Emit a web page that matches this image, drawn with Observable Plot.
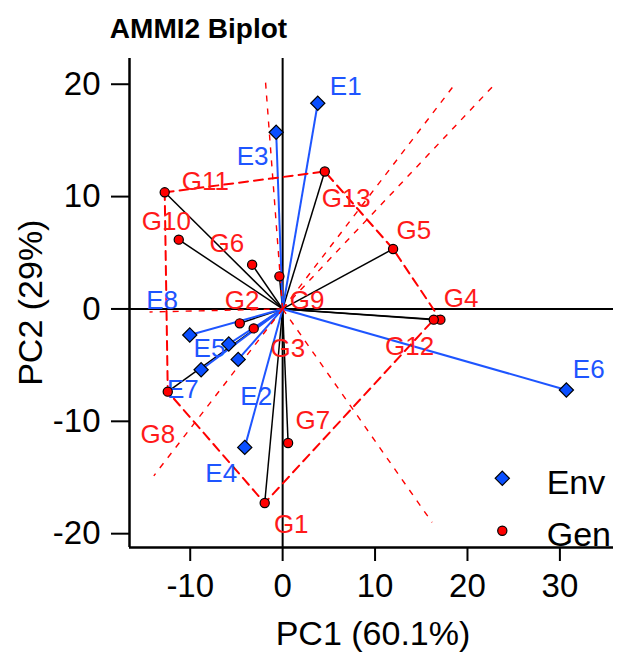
<!DOCTYPE html>
<html><head><meta charset="utf-8">
<script src="https://cdn.jsdelivr.net/npm/d3@7"></script>
<script src="https://cdn.jsdelivr.net/npm/@observablehq/plot@0.6"></script>
<style>
body{margin:0;background:#fff;}
#chart{position:relative;width:619px;height:653px;}
svg{font-family:"Liberation Sans",Arial,sans-serif;}
</style></head><body><div id="chart"></div>
<script>
// Environments (PC1, PC2) and label anchor positions
const envNames = ["E1","E2","E3","E4","E5","E6","E7","E8"];
const envPC1 = [3.80, -4.81, -0.70, -4.10, -5.83, 30.70, -8.82, -10.05];
const envPC2 = [18.31, -4.49, 15.73, -12.32, -3.12, -7.21, -5.41, -2.32];
const envLabelPC1 = [6.83, -2.86, -3.25, -6.64, -7.92, 33.12, -10.79, -13.04];
const envLabelPC2 = [19.82, -7.79, 13.58, -14.62, -3.55, -5.42, -7.20, 0.74];

// Genotypes
const genNames = ["G1","G2","G3","G4","G5","G6","G7","G8","G9","G10","G11","G12","G13"];
const genPC1 = [-1.94, -4.64, -3.13, 17.07, 11.95, -3.30, 0.59, -12.43, -0.35, -11.24, -12.76, 16.35, 4.56];
const genPC2 = [-17.27, -1.28, -1.73, -0.95, 5.34, 3.94, -11.93, -7.36, 2.90, 6.17, 10.38, -0.95, 12.23];
const genLabelPC1 = [0.93, -4.38, 0.57, 19.32, 14.19, -6.03, 3.28, -13.49, 2.65, -12.59, -8.35, 13.74, 6.88];
const genLabelPC2 = [-19.2, 0.74, -3.56, 0.89, 6.97, 5.79, -9.95, -11.21, 0.74, 7.79, 11.35, -3.34, 9.80];

// Convex hull of genotypes (which-won-where polygon) and perpendicular rays
const hullOrder = ["G11","G13","G5","G4","G12","G1","G8","G11"];
const rayPC1 = [-1.86, 18.69, 23.02, 16.17, -13.94, -14.4];
const rayPC2 = [20.3, 20.06, 20.06, -19.0, -14.85, -0.27];

const xDomain = [-16.57, 35.8];
const yDomain = [-21.23, 22.29];
const xTicks = [-10, 0, 10, 20, 30];
const yTicks = [-20, -10, 0, 10, 20];

const env = envNames.map((name, i) => ({name, pc1: envPC1[i], pc2: envPC2[i], lx: envLabelPC1[i], ly: envLabelPC2[i]}));
const gen = genNames.map((name, i) => ({name, pc1: genPC1[i], pc2: genPC2[i], lx: genLabelPC1[i], ly: genLabelPC2[i]}));
const genByName = new Map(gen.map(d => [d.name, d]));
const hull = hullOrder.map(n => genByName.get(n));
const rays = rayPC1.map((x, i) => ({x, y: rayPC2[i]}));

const BLUE = "#1e55ff";
const zero = () => 0;

const plot = Plot.plot({
  width: 619, height: 653,
  marginLeft: 129, marginRight: 6, marginTop: 58, marginBottom: 106,
  style: {background: "white", fontFamily: "'Liberation Sans', Arial, sans-serif", color: "black"},
  x: {domain: xDomain},
  y: {domain: yDomain},
  marks: [
    Plot.ruleX([0], {stroke: "black", strokeWidth: 2}),
    Plot.ruleY([0], {stroke: "black", strokeWidth: 2}),
    Plot.ruleX([xDomain[0]], {stroke: "black", strokeWidth: 2.5}),
    Plot.ruleY([yDomain[0]], {stroke: "black", strokeWidth: 2.5}),
    Plot.link(gen, {x1: zero, y1: zero, x2: "pc1", y2: "pc2", stroke: "black", strokeWidth: 1.5}),
    Plot.link(env, {x1: zero, y1: zero, x2: "pc1", y2: "pc2", stroke: BLUE, strokeWidth: 2}),
    Plot.line(hull, {x: "pc1", y: "pc2", stroke: "red", strokeWidth: 2, strokeDasharray: "9,6"}),
    Plot.link(rays, {x1: zero, y1: zero, x2: "x", y2: "y", stroke: "red", strokeWidth: 1.4, strokeDasharray: "6,7"}),
    Plot.text(env, {x: "lx", y: "ly", text: "name", fill: BLUE, fontSize: 26, textAnchor: "middle", lineAnchor: "middle"}),
    Plot.text(gen, {x: "lx", y: "ly", text: "name", fill: "#ff1a1a", fontSize: 26, textAnchor: "middle", lineAnchor: "middle"}),
    Plot.dot(env, {x: "pc1", y: "pc2", symbol: "diamond2", r: 6.4, fill: "#0a4fff", stroke: "black", strokeWidth: 1.2}),
    Plot.dot(gen, {x: "pc1", y: "pc2", r: 4.6, fill: "red", stroke: "black", strokeWidth: 1.2}),
    Plot.axisX({ticks: xTicks, tickFormat: d => String(d), tickSize: 14, tickPadding: 12, fontSize: 33, strokeWidth: 2, label: null}),
    Plot.axisY({ticks: yTicks, tickFormat: d => String(d), tickSize: 18, tickPadding: 11, fontSize: 33, strokeWidth: 2, label: null})
  ]
});
document.getElementById("chart").appendChild(plot);

const svg = d3.select(plot);
svg.append("text").attr("x", 198.5).attr("y", 38.3).attr("text-anchor", "middle")
  .attr("font-size", 28).attr("font-weight", "bold").attr("fill", "black").text("AMMI2 Biplot");
svg.append("text").attr("x", 373).attr("y", 645).attr("text-anchor", "middle")
  .attr("font-size", 34).attr("fill", "black").text("PC1 (60.1%)");
svg.append("text").attr("transform", "translate(41.7,302.7) rotate(-90)").attr("text-anchor", "middle")
  .attr("font-size", 34).attr("fill", "black").text("PC2 (29%)");

// Legend
const legendItems = [
  {label: "Env", symbol: d3.symbolDiamond2, size: Math.PI * 6.4 * 6.4, fill: "#0a4fff", cy: 478.3, base: 494},
  {label: "Gen", symbol: d3.symbolCircle, size: Math.PI * 4.6 * 4.6, fill: "red", cy: 530.7, base: 546}
];
const lg = svg.append("g");
legendItems.forEach(it => {
  lg.append("path").attr("transform", `translate(502.3,${it.cy})`)
    .attr("d", d3.symbol(it.symbol, it.size)()).attr("fill", it.fill).attr("stroke", "black").attr("stroke-width", 1.2);
  lg.append("text").attr("x", 546.7).attr("y", it.base).attr("text-anchor", "start")
    .attr("font-size", 34).attr("fill", "black").text(it.label);
});
</script></body></html>
